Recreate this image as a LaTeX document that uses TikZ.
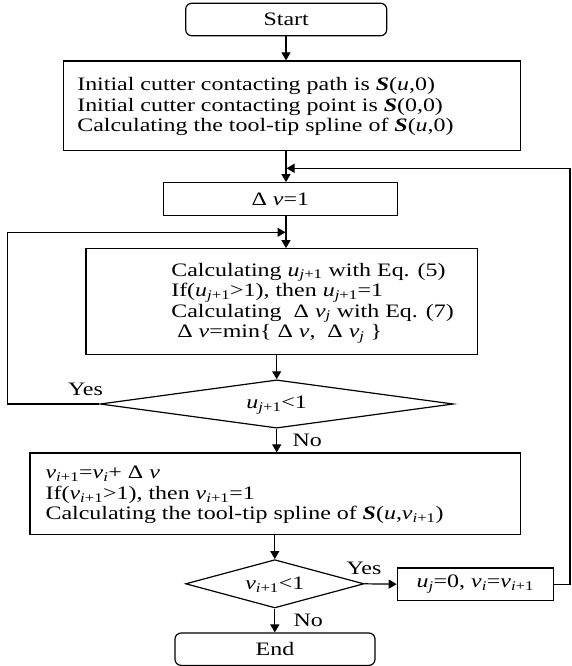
\documentclass[tikz,border=0pt]{standalone}
\usepackage{fontspec}
\setmainfont{Liberation Serif}[FakeStretch=1.26]
\usetikzlibrary{arrows.meta,shapes.geometric}
\newcommand{\vi}[1]{\textit{#1}}
\newcommand{\sbs}[1]{\textsubscript{#1}}
\newcommand{\bS}{\textbf{\textit{S}}}
\begin{document}
\begin{tikzpicture}[x=1pt,y=-1pt,
  font=\fontsize{19}{20.5}\selectfont,
  line width=1.2pt,
  >={Triangle[length=8pt,width=9pt]},
  box/.style={draw, rectangle, inner sep=0pt},
  term/.style={draw, rectangle, rounded corners=6pt, inner sep=0pt},
  dia/.style={draw, diamond, inner sep=0pt},
  txt/.style={anchor=west, align=left, inner sep=0pt},
  lab/.style={inner sep=0pt}]
\useasboundingbox (0,0) rectangle (571,666);

% nodes
\node[term, minimum width=201, minimum height=32.4] (start) at (286.2,19.5) {Start};
\node[box, minimum width=457.4, minimum height=89.7] (b1) at (292,105.8) {};
\node[txt] (t1) at (76.7,106.5) {Initial cutter contacting path is \bS(\vi{u},0)\\
Initial cutter contacting point is \bS(0,0)\\
Calculating the tool-tip spline of \bS(\vi{u},0)};
\node[box, minimum width=234, minimum height=32.8] (b2) at (280.3,199.1) {Δ~\vi{v}=1};
\node[box, minimum width=391.3, minimum height=106] (b3) at (281.7,301.7) {};
\node[txt] (t3) at (170.7,303) {Calculating \vi{u}\sbs{\vi{j}+1} with Eq. (5)\\
If(\vi{u}\sbs{\vi{j}+1}>1), then \vi{u}\sbs{\vi{j}+1}=1\\
Calculating ~Δ~\vi{v}\sbs{\vi{j}} with Eq. (7)\\
~Δ~\vi{v}=min\{~Δ~\vi{v}, ~Δ~\vi{v}\sbs{\vi{j}}~\}};
\node[dia, minimum width=353.3, minimum height=48.3] (d1) at (276.7,404) {};
\node[lab] (d1t) at (276.7,405) {\vi{u}\sbs{\vi{j}+1}<1};
\node[box, minimum width=490.7, minimum height=81.7] (b4) at (275.3,493.8) {};
\node[txt] (t4) at (45,495) {\vi{v}\sbs{\vi{i}+1}=\vi{v}\sbs{\vi{i}}+~Δ~\vi{v}\\
If(\vi{v}\sbs{\vi{i}+1}>1), then \vi{v}\sbs{\vi{i}+1}=1\\
Calculating the tool-tip spline of \bS(\vi{u},\vi{v}\sbs{\vi{i}+1})};
\node[dia, minimum width=178.3, minimum height=48.3] (d2) at (274.8,583.8) {};
\node[lab] (d2t) at (274.8,585) {\vi{v}\sbs{\vi{i}+1}<1};
\node[box, minimum width=156, minimum height=32.3] (b5) at (475.3,584.2) {\vi{u}\sbs{\vi{j}}=0, \vi{v}\sbs{\vi{i}}=\vi{v}\sbs{\vi{i}+1}};
\node[term, minimum width=200, minimum height=32.3] (end) at (275,649.2) {End};

% labels
\node[lab] (y1) at (85.5,389) {Yes};
\node[lab, anchor=west] (n1) at (292,440) {No};
\node[lab] (y2) at (364,568) {Yes};
\node[lab, anchor=west] (n2) at (293,620) {No};

% helper coordinates
\coordinate (m1) at (286.5,168.3);
\coordinate (m2) at (285.5,232.3);
\coordinate (l1) at (7.3,404);
\coordinate (l2) at (7.3,232.3);
\coordinate (r1) at (570,584.2);
\coordinate (r2) at (570,168.3);

% connectors
\draw[->] (286,35.7) coordinate (a0) -- (a0 |- b1.north);
\draw[->] (a0 |- b1.south) -- (a0 |- b2.north);
\draw[->] (a0 |- b2.south) -- (a0 |- b3.north);
\draw[->] (d1.north |- b3.south) -- (d1.north);
\draw[->] (d1.south) -- (d1.south |- b4.north);
\draw[->] (d2.north |- b4.south) -- (d2.north);
\draw[->] (d2.south) -- (d2.south |- end.north);
\draw[->] (d2.east) -- (b5.west);
\draw[->] (d1.west) -- (l1) -- (l2) -- (m2);
\draw[->] (b5.east) -- (r1) -- (r2) -- (m1);
\end{tikzpicture}
\end{document}
